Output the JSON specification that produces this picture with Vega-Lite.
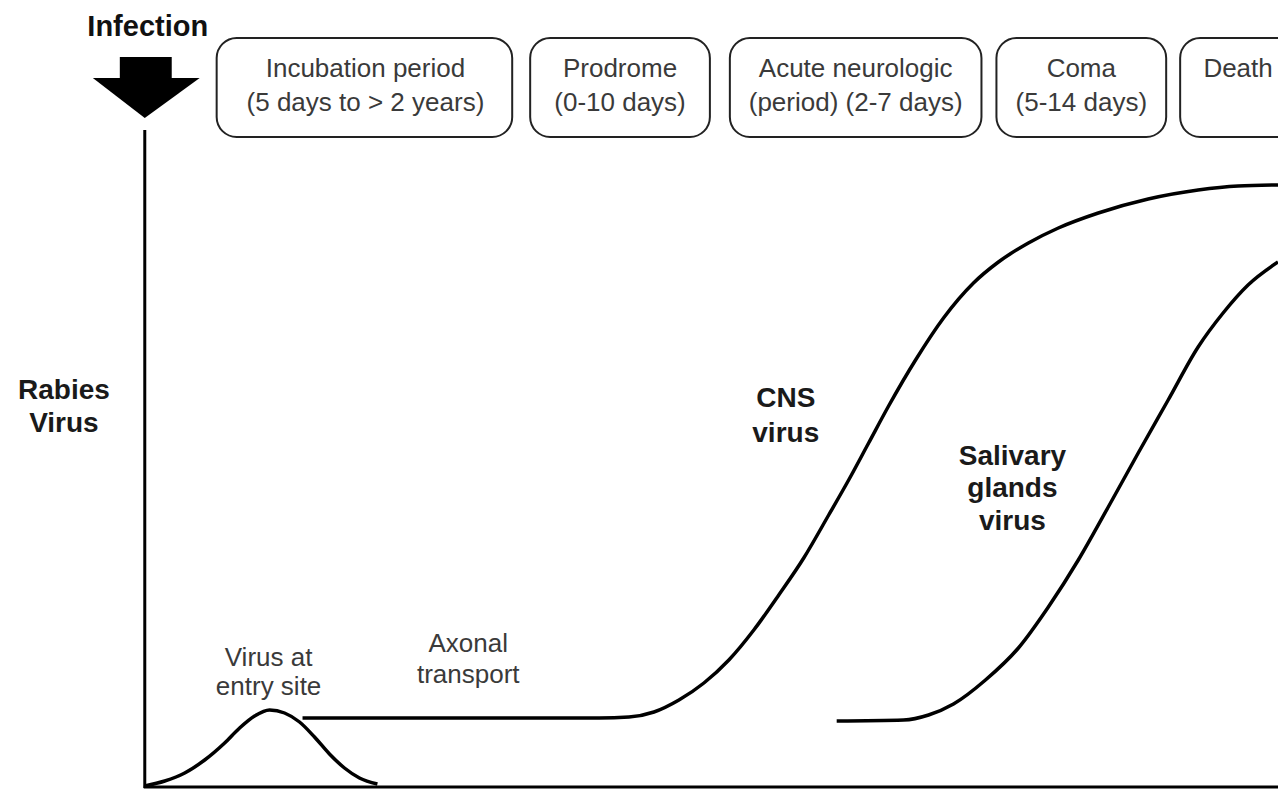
{
  "$schema": "https://vega.github.io/schema/vega-lite/v6.json",
  "width": 1280,
  "height": 792,
  "autosize": {"type": "fit", "contains": "padding"},
  "padding": 0,
  "background": "white",
  "config": {"view": {"stroke": null}},
  "datasets": {
    "axes": [
      {"x": 145, "y": 130, "x2": 145, "y2": 788},
      {"x": 144, "y": 787, "x2": 1280, "y2": 787}
    ],
    "curves": [
      {"s": "entry", "x": 145, "y": 786}, {"s": "entry", "x": 165, "y": 781}, {"s": "entry", "x": 185, "y": 773},
      {"s": "entry", "x": 205, "y": 760}, {"s": "entry", "x": 225, "y": 743}, {"s": "entry", "x": 240, "y": 728},
      {"s": "entry", "x": 255, "y": 716}, {"s": "entry", "x": 270, "y": 710}, {"s": "entry", "x": 285, "y": 713},
      {"s": "entry", "x": 300, "y": 722}, {"s": "entry", "x": 315, "y": 737}, {"s": "entry", "x": 330, "y": 754},
      {"s": "entry", "x": 345, "y": 768}, {"s": "entry", "x": 360, "y": 778}, {"s": "entry", "x": 378, "y": 784},
      {"s": "cns", "x": 303, "y": 718}, {"s": "cns", "x": 600, "y": 718}, {"s": "cns", "x": 630, "y": 717},
      {"s": "cns", "x": 655, "y": 712}, {"s": "cns", "x": 680, "y": 700}, {"s": "cns", "x": 705, "y": 683},
      {"s": "cns", "x": 730, "y": 660}, {"s": "cns", "x": 755, "y": 630}, {"s": "cns", "x": 780, "y": 595},
      {"s": "cns", "x": 805, "y": 558}, {"s": "cns", "x": 830, "y": 515}, {"s": "cns", "x": 850, "y": 480},
      {"s": "cns", "x": 870, "y": 443}, {"s": "cns", "x": 890, "y": 406}, {"s": "cns", "x": 917, "y": 360},
      {"s": "cns", "x": 945, "y": 318}, {"s": "cns", "x": 975, "y": 283}, {"s": "cns", "x": 1000, "y": 262},
      {"s": "cns", "x": 1030, "y": 243}, {"s": "cns", "x": 1060, "y": 228}, {"s": "cns", "x": 1100, "y": 213},
      {"s": "cns", "x": 1150, "y": 199}, {"s": "cns", "x": 1200, "y": 190}, {"s": "cns", "x": 1240, "y": 186},
      {"s": "cns", "x": 1280, "y": 185},
      {"s": "saliva", "x": 838, "y": 721}, {"s": "saliva", "x": 905, "y": 720}, {"s": "saliva", "x": 930, "y": 715},
      {"s": "saliva", "x": 955, "y": 704}, {"s": "saliva", "x": 987, "y": 680}, {"s": "saliva", "x": 1020, "y": 648},
      {"s": "saliva", "x": 1050, "y": 607}, {"s": "saliva", "x": 1080, "y": 560}, {"s": "saliva", "x": 1110, "y": 507},
      {"s": "saliva", "x": 1140, "y": 453}, {"s": "saliva", "x": 1170, "y": 400}, {"s": "saliva", "x": 1200, "y": 347},
      {"s": "saliva", "x": 1225, "y": 313}, {"s": "saliva", "x": 1250, "y": 285}, {"s": "saliva", "x": 1280, "y": 262}
    ],
    "shaft": [{"x": 120, "x2": 172, "y": 57, "y2": 80}],
    "head": [
      {"x": 93, "y": 78, "y2": 78},
      {"x": 145, "y": 78, "y2": 118},
      {"x": 200, "y": 78, "y2": 78}
    ],
    "boxes": [
      {"x": 217, "x2": 513, "y": 38, "y2": 137},
      {"x": 531, "x2": 711, "y": 38, "y2": 137},
      {"x": 731, "x2": 983, "y": 38, "y2": 137},
      {"x": 998, "x2": 1168, "y": 38, "y2": 137},
      {"x": 1182, "x2": 1310, "y": 38, "y2": 137}
    ],
    "boxText": [
      {"x": 366, "y": 77, "t": "Incubation period"},
      {"x": 366, "y": 111, "t": "(5 days to > 2 years)"},
      {"x": 621, "y": 77, "t": "Prodrome"},
      {"x": 621, "y": 111, "t": "(0-10 days)"},
      {"x": 857, "y": 77, "t": "Acute neurologic"},
      {"x": 857, "y": 111, "t": "(period) (2-7 days)"},
      {"x": 1083, "y": 77, "t": "Coma"},
      {"x": 1083, "y": 111, "t": "(5-14 days)"},
      {"x": 1240, "y": 77, "t": "Death"}
    ],
    "bigText": [
      {"x": 64, "y": 399, "t": "Rabies"},
      {"x": 64, "y": 432, "t": "Virus"},
      {"x": 787, "y": 407, "t": "CNS"},
      {"x": 787, "y": 442, "t": "virus"},
      {"x": 1014, "y": 465, "t": "Salivary"},
      {"x": 1014, "y": 497, "t": "glands"},
      {"x": 1014, "y": 530, "t": "virus"}
    ],
    "smallText": [
      {"x": 269, "y": 666, "t": "Virus at"},
      {"x": 269, "y": 695, "t": "entry site"},
      {"x": 469, "y": 652, "t": "Axonal"},
      {"x": 469, "y": 683, "t": "transport"}
    ],
    "title": [{"x": 148, "y": 36, "t": "Infection"}]
  },
  "encoding": {
    "x": {"field": "x", "type": "quantitative", "scale": {"domain": [0, 1280], "nice": false, "zero": false}, "axis": null},
    "y": {"field": "y", "type": "quantitative", "scale": {"domain": [0, 792], "nice": false, "zero": false, "reverse": true}, "axis": null}
  },
  "layer": [
    {
      "data": {"name": "axes"},
      "mark": {"type": "rule", "color": "#000000", "strokeWidth": 3},
      "encoding": {"x2": {"field": "x2"}, "y2": {"field": "y2"}}
    },
    {
      "data": {"name": "curves"},
      "mark": {"type": "line", "color": "#000000", "strokeWidth": 3.5, "interpolate": "monotone", "clip": true},
      "encoding": {"detail": {"field": "s", "type": "nominal"}}
    },
    {
      "data": {"name": "shaft"},
      "mark": {"type": "rect", "color": "#000000"},
      "encoding": {"x2": {"field": "x2"}, "y2": {"field": "y2"}}
    },
    {
      "data": {"name": "head"},
      "mark": {"type": "area", "color": "#000000", "opacity": 1},
      "encoding": {"y2": {"field": "y2"}}
    },
    {
      "data": {"name": "boxes"},
      "mark": {"type": "rect", "fill": "#ffffff", "stroke": "#222222", "strokeWidth": 2, "cornerRadius": 20, "clip": true},
      "encoding": {"x2": {"field": "x2"}, "y2": {"field": "y2"}}
    },
    {
      "data": {"name": "boxText"},
      "mark": {"type": "text", "font": "Liberation Sans", "fontSize": 26, "color": "#3a3a3a", "align": "center", "baseline": "alphabetic"},
      "encoding": {"text": {"field": "t"}}
    },
    {
      "data": {"name": "bigText"},
      "mark": {"type": "text", "font": "Liberation Sans", "fontSize": 28, "fontWeight": "bold", "color": "#1a1a1a", "align": "center", "baseline": "alphabetic"},
      "encoding": {"text": {"field": "t"}}
    },
    {
      "data": {"name": "smallText"},
      "mark": {"type": "text", "font": "Liberation Sans", "fontSize": 26, "color": "#3a3a3a", "align": "center", "baseline": "alphabetic"},
      "encoding": {"text": {"field": "t"}}
    },
    {
      "data": {"name": "title"},
      "mark": {"type": "text", "font": "Liberation Sans", "fontSize": 29, "fontWeight": "bold", "color": "#111111", "align": "center", "baseline": "alphabetic"},
      "encoding": {"text": {"field": "t"}}
    }
  ]
}
